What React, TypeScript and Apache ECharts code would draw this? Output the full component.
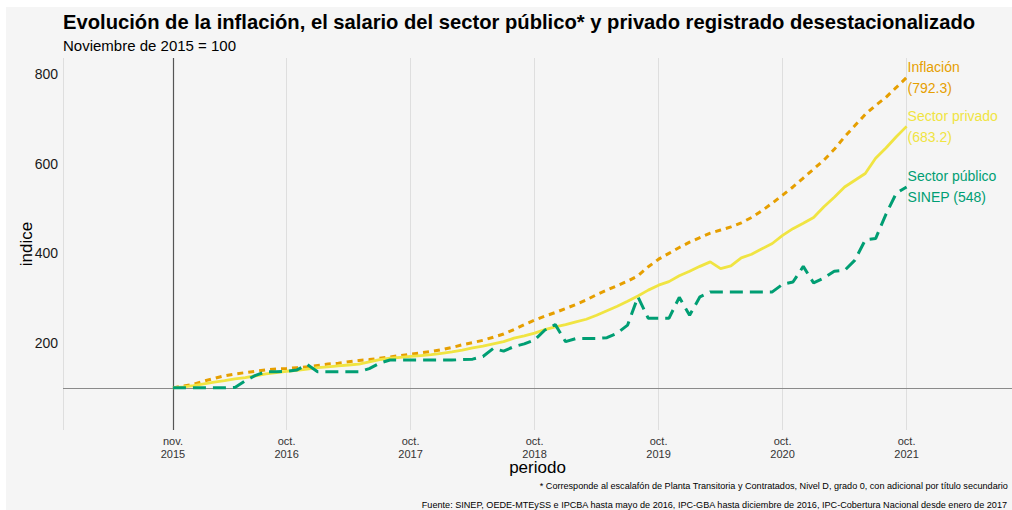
import React, { useEffect, useRef } from "react";
import * as echarts from "echarts";

// Month index 0 = nov. 2015 ... 71 = oct. 2021 (Noviembre de 2015 = 100)
const inflacion = [
  100, 104, 108, 115, 121, 127, 131, 134, 137, 140, 142, 143,
  145, 147, 150, 153, 155, 158, 161, 163, 166, 169, 172, 175,
  178, 181, 185, 190, 196, 201, 206, 213, 220, 230, 241, 251,
  260, 268, 277, 286, 296, 308, 318, 328, 338, 350, 370, 387,
  400, 413, 425, 435, 445, 452, 459, 468, 480, 495, 512, 530,
  548, 568, 588, 608, 632, 660, 685, 710, 730, 748, 770, 792.3,
];
const privado = [
  100, 102, 105, 109, 113, 116, 120, 123, 127, 131, 134, 137,
  139, 142, 145, 147, 149, 151, 153, 158, 163, 166, 168, 170,
  172, 174, 177, 180, 184, 189, 193, 198, 203, 211, 216, 222,
  230, 236, 241, 247, 253, 262, 272, 282, 293, 305, 318, 329,
  337, 350, 360, 371, 381, 366, 372, 390, 398, 410, 422, 440,
  455, 467, 480, 504, 525, 548, 563, 578, 612, 635, 660, 683.2,
];
const publico = [
  100, 100, 100, 100, 100, 100, 101, 116, 128, 136, 136, 137,
  140, 152, 136, 136, 136, 136, 136, 143, 155, 162, 162, 162,
  162, 162, 162, 162, 163, 164, 170, 188, 182, 192, 198, 207,
  229, 241, 203, 210, 210, 210, 212, 222, 240, 303, 255, 255,
  255, 302, 262, 303, 314, 314, 314, 314, 314, 314, 314, 331,
  336, 371, 334, 345, 360, 362, 385, 430, 433, 487, 534, 548,
];

const tickMonths = [0, 11, 23, 35, 47, 59, 71];
const tickLabels = ["nov.\n2015", "oct.\n2016", "oct.\n2017", "oct.\n2018", "oct.\n2019", "oct.\n2020", "oct.\n2021"];
const yTicks = [200, 400, 600, 800];
const baseValue = 100;
const baseMonth = 0;

const seriesNames = ["Inflación", "Sector privado", "Sector público"];
const endLabels = ["Inflación\n(792.3)", "Sector privado\n(683.2)", "Sector público\nSINEP (548)"];

const title = "Evolución de la inflación, el salario del sector público* y privado registrado desestacionalizado";
const subtitle = "Noviembre de 2015 = 100";
const note1 = "* Corresponde al escalafón de Planta Transitoria y Contratados, Nivel D, grado 0, con adicional por título secundario";
const note2 = "Fuente: SINEP, OEDE-MTEySS e IPCBA hasta mayo de 2016, IPC-GBA hasta diciembre de 2016, IPC-Cobertura Nacional desde enero de 2017";

const FONT = "'Liberation Sans', Arial, sans-serif";
const X_MIN = -10.64;
const X_MAX = 81.2;
const Y_MIN = 6;
const Y_MAX = 835.7;

export default function App() {
  const ref = useRef<HTMLDivElement>(null);
  useEffect(() => {
    if (!ref.current) return;
    const chart = echarts.init(ref.current, null, { renderer: "svg" });
    const toPairs = (arr: number[]) => arr.map((v, i) => [i, v]);
    const colors = ["#E69F00", "#F0E442", "#009E73"];
    const dashes: any[] = [[6, 5], "solid", [13, 7]];
    const data = [inflacion, privado, publico];

    const lineSeries = data.map((arr, k) => ({
      name: seriesNames[k],
      type: "line",
      data: toPairs(arr),
      showSymbol: false,
      symbol: "none",
      z: 5 + k,
      lineStyle: { color: colors[k], width: k === 1 ? 2.8 : 3, type: dashes[k], cap: "butt" },
      endLabel: {
        show: true,
        formatter: () => endLabels[k],
        color: colors[k],
        fontFamily: FONT,
        fontSize: 14,
        lineHeight: 21,
        distance: 1,
      },
      emphasis: { disabled: true },
    }));

    chart.setOption({
      animation: false,
      backgroundColor: "#ffffff",
      textStyle: { fontFamily: FONT },
      graphic: [
        { type: "rect", z: -10, silent: true, shape: { x: 6, y: 7, width: 1012, height: 510 }, style: { fill: "#f5f5f5" } },
        { type: "text", left: 63, top: 12, style: { text: title, fontFamily: FONT, fontWeight: "bold", fontSize: 20.2, fill: "#000" } },
        { type: "text", left: 63, top: 38, style: { text: subtitle, fontFamily: FONT, fontSize: 15, fill: "#000" } },
        { type: "text", right: 4, top: 481, style: { text: note1, fontFamily: FONT, fontSize: 9.1, fill: "#000" } },
        { type: "text", right: 4, top: 500, style: { text: note2, fontFamily: FONT, fontSize: 9.1, fill: "#000" } },
      ],
      grid: { left: 63, top: 58, width: 949, height: 372, containLabel: false },
      xAxis: {
        type: "value",
        min: X_MIN,
        max: X_MAX,
        name: "periodo",
        nameLocation: "middle",
        nameGap: 29,
        nameMoveOverlap: false,
        nameTextStyle: { fontFamily: FONT, fontSize: 17, color: "#000" },
        axisLine: { show: false },
        axisTick: { show: false },
        splitLine: { show: false },
        axisLabel: {
          customValues: tickMonths,
          formatter: (v: number) => tickLabels[tickMonths.indexOf(Math.round(v))] ?? "",
          fontFamily: FONT,
          fontSize: 11,
          lineHeight: 13,
          color: "#333",
          margin: 4,
        },
      },
      yAxis: {
        type: "value",
        min: Y_MIN,
        max: Y_MAX,
        name: "indice",
        nameLocation: "middle",
        nameGap: 28,
        nameMoveOverlap: false,
        nameTextStyle: { fontFamily: FONT, fontSize: 17, color: "#000" },
        axisLine: { show: false },
        axisTick: { show: false },
        splitLine: { show: false },
        axisLabel: {
          customValues: yTicks,
          fontFamily: FONT,
          fontSize: 14,
          color: "#1a1a1a",
          margin: 5,
        },
      },
      series: [
        {
          type: "line",
          data: [],
          silent: true,
          z: 1,
          markLine: {
            silent: true,
            symbol: "none",
            label: { show: false },
            animation: false,
            data: [
              ...[X_MIN, ...tickMonths.slice(1)].map((m) => ({
                xAxis: m,
                lineStyle: { color: "#dedede", width: 1, type: "solid" },
              })),
              { xAxis: baseMonth, lineStyle: { color: "#555", width: 1.2, type: "solid" } },
              { yAxis: baseValue, lineStyle: { color: "#8a8a8a", width: 1, type: "solid" } },
            ],
          },
        },
        ...lineSeries,
      ],
    });
    return () => chart.dispose();
  }, []);
  return (
    <div style={{ position: "absolute", left: 0, top: 0, width: 1012, height: 510 }}>
      <div ref={ref} style={{ width: 1012, height: 510 }} />
    </div>
  );
}
